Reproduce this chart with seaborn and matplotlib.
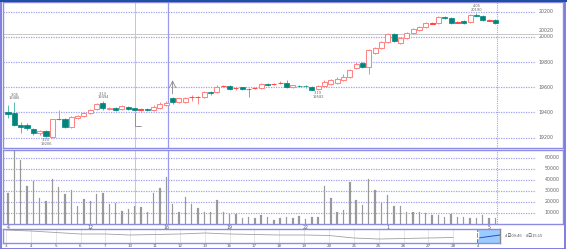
import numpy as np
import pandas as pd
import matplotlib
matplotlib.use("Agg")
import matplotlib.pyplot as plt
from matplotlib.patches import Rectangle
import seaborn as sns

# ---------------- data ----------------
opens = [19406, 19398, 19302, 19298, 19270, 19234, 19250, 19206, 19346, 19350,
         19286, 19358, 19374, 19398, 19430, 19478, 19430, 19438, 19430, 19442,
         19434, 19422, 19430, 19422, 19438, 19462, 19518, 19486, 19482, 19522,
         19522, 19526, 19566, 19566, 19610, 19614, 19594, 19602, 19590, 19594,
         19598, 19630, 19626, 19634, 19638, 19602, 19614, 19614, 19606, 19586,
         19614, 19630, 19638, 19654, 19678, 19750, 19790, 19758, 19870, 19910,
         19958, 20022, 19950, 19990, 20030, 20054, 20078, 20106, 20110, 20158,
         20150, 20114, 20126, 20118, 20174, 20166, 20130, 20134]
highs = [19462, 19486, 19326, 19318, 19278, 19262, 19262, 19350, 19422, 19358,
         19374, 19382, 19406, 19430, 19478, 19494, 19446, 19446, 19462, 19454,
         19438, 19438, 19438, 19462, 19486, 19494, 19526, 19518, 19526, 19542,
         19534, 19574, 19574, 19622, 19622, 19622, 19606, 19606, 19598, 19606,
         19638, 19638, 19638, 19646, 19654, 19622, 19622, 19622, 19614, 19622,
         19654, 19662, 19678, 19702, 19742, 19798, 19798, 19902, 19918, 19966,
         20030, 20030, 19998, 20038, 20070, 20086, 20118, 20118, 20166, 20166,
         20158, 20126, 20134, 20182, 20190, 20174, 20142, 20142]
lows = [19358, 19294, 19238, 19262, 19222, 19222, 19206, 19198, 19342, 19278,
        19278, 19350, 19366, 19390, 19422, 19422, 19422, 19414, 19422, 19422,
        19414, 19414, 19414, 19414, 19430, 19454, 19470, 19478, 19478, 19494,
        19470, 19518, 19542, 19558, 19606, 19582, 19582, 19582, 19526, 19590,
        19590, 19614, 19622, 19630, 19598, 19598, 19606, 19598, 19578, 19582,
        19606, 19622, 19630, 19646, 19670, 19742, 19750, 19702, 19862, 19902,
        19950, 19958, 19942, 19982, 20022, 20046, 20070, 20102, 20102, 20142,
        20102, 20110, 20102, 20110, 20166, 20126, 20126, 20102]
closes = [19390, 19302, 19286, 19278, 19238, 19250, 19214, 19346, 19350, 19286,
          19366, 19374, 19398, 19422, 19470, 19438, 19438, 19422, 19454, 19430,
          19422, 19426, 19418, 19446, 19470, 19478, 19482, 19514, 19514, 19526,
          19526, 19566, 19558, 19606, 19614, 19590, 19598, 19586, 19586, 19598,
          19630, 19622, 19630, 19638, 19606, 19618, 19610, 19610, 19582, 19614,
          19642, 19654, 19666, 19678, 19734, 19786, 19758, 19894, 19910, 19958,
          20022, 19966, 19990, 20030, 20062, 20078, 20110, 20110, 20158, 20154,
          20110, 20118, 20114, 20174, 20170, 20134, 20134, 20110]
volumes = [27900, 66000, 58000, 34500, 39400, 23300, 21200, 40600, 34000, 27000,
           30900, 16400, 22400, 21200, 27300, 28500, 18200, 19400, 11800, 13300,
           16400, 15500, 11200, 27900, 33000, 42700, 18200, 11200, 24800, 17900,
           14800, 11200, 10600, 21800, 11200, 8800, 8800, 5200, 6100, 5500,
           7900, 6100, 3600, 5200, 6100, 5200, 7300, 4500, 6400, 6400,
           34500, 23900, 11200, 12400, 37900, 21800, 17000, 40600, 30900, 18800,
           26400, 16400, 16400, 11200, 11200, 11200, 9700, 8200, 8200, 6700,
           9100, 6700, 6700, 5800, 5800, 8200, 5200, 5200]

price_ticks = [20200, 20000, 19800, 19600, 19400, 19200]
ref_price = 20020
vol_ticks = [60000, 50000, 40000, 30000, 20000, 10000]

xtick_idx = [0, 13, 25, 35, 47, 60, 76]
xtick_labels = ["4", "12", "16", "19", "22", "1", "5"]

nav_labels = ["3", "4", "5", "6", "7", "10", "11", "12", "13", "16",
              "17", "18", "19", "20", "21", "25", "26", "27", "28", "4"]
nav_close = [20857, 20714, 20500, 20286, 20286, 20143, 20214, 20286, 20429, 20286,
             20214, 20143, 20143, 20071, 19714, 19571, 19643, 19714, 19786, 19714, 20143]

# marker labels: (candle index, kind, date text)
hl_labels = [(1, "high", "3.05"), (6, "low", "3.10"), (15, "high", "3.13"),
             (49, "low", "3.19"), (74, "high", "4.05")]

df = pd.DataFrame({"open": opens, "high": highs, "low": lows,
                   "close": closes, "volume": volumes})
df["idx"] = np.arange(len(df))

# ---------------- figure ----------------
sns.set_theme(style="white")
plt.rcParams['font.family'] = ['DejaVu Sans', 'Noto Sans CJK SC']
W, H = 567, 249
fig = plt.figure(figsize=(W / 100, H / 100), dpi=100)
fig.patch.set_facecolor("white")

def ax_px(l, t, r, b):
    return fig.add_axes([l / W, 1 - b / H, (r - l) / W, (b - t) / H])

ax = ax_px(3, 2, 563, 148)
axv = ax_px(3, 150, 563, 224)
axn = ax_px(3, 229, 500, 243)

XL = (-0.79, 87.68)
grid_end = 83.3
lab_x = 83.8
GRID = "#a0a0f0"
FRAME = "#8c8ce6"
UP = "#ff8484"
DN = "#00857a"
DNW = "#55bfae"

# --- main candles
ax.set_xlim(*XL)
ax.set_ylim(19117.6, 20277.6)
for p in price_ticks:
    ax.plot([XL[0], grid_end], [p, p], color=GRID, lw=0.9, ls=(0, (1, 1)), zorder=1)
    ax.text(lab_x, p, f"{p}", fontsize=3.4, color="#666", va="center", ha="left")
ax.plot([XL[0], grid_end + 0.5], [ref_price, ref_price], color="#c8c8c8", lw=0.7, zorder=1)
ax.text(lab_x, ref_price + 8, f"{ref_price}", fontsize=3.4, color="#666", va="bottom", ha="left")

bw = 0.8
for r in df.itertuples():
    up = r.close >= r.open
    if up:
        ax.vlines(r.idx, r.low, r.high, color=UP, lw=0.7, zorder=2)
        bot, h = min(r.open, r.close), abs(r.close - r.open)
        ax.add_patch(Rectangle((r.idx - bw / 2, bot), bw, max(h, 1.5),
                               facecolor="white", edgecolor=UP if h > 6 else "#ff4a4a",
                               lw=0.75, zorder=3))
    else:
        ax.vlines(r.idx, r.low, r.high, color=DNW, lw=0.7, zorder=2)
        bot, h = r.close, r.open - r.close
        ax.add_patch(Rectangle((r.idx - bw / 2, bot), bw, max(h, 1.5),
                               facecolor=DN, edgecolor=DN, lw=0.5, zorder=3))

for i, kind, dt in hl_labels:
    if kind == "high":
        y = df.high[i]
        ax.text(i, y + 10, f"{dt}\n{y}", fontsize=2.6, color="#666", ha="center",
                va="bottom", linespacing=0.9)
    else:
        y = df.low[i]
        ax.text(i, y - 10, f"{dt}\n{y}", fontsize=2.6, color="#666", ha="center",
                va="top", linespacing=0.9)

# signal markers
ax.annotate("", xy=(26, 19678), xytext=(26, df.high[26]),
            arrowprops=dict(arrowstyle="->", color="#888", lw=0.6))
ax.plot([20, 20, 21], [df.low[20] - 20, 19294, 19294], color="#888", lw=0.6)

for a in (ax, axv):
    a.axvline(20, color="#c8c8c8", lw=0.7, zorder=1)
    a.axvline(25.3, color="#9a9af0", lw=0.9, zorder=1)
    a.axvline(77.25, color="#a0a0f0", lw=0.8, ls=(0, (1, 1)), zorder=1)

ax.set_xticks([])
ax.set_yticks([])

# --- volume
axv.set_ylim(0, 67270)
for v in vol_ticks:
    axv.plot([XL[0], grid_end], [v, v], color=GRID, lw=0.9, ls=(0, (1, 1)), zorder=1)
    axv.text(lab_x + 1, v, f"{v}", fontsize=3.4, color="#666", va="center", ha="left")
sns.barplot(data=df, x="idx", y="volume", native_scale=True, color="#999999",
            width=0.22, errorbar=None, ax=axv, saturation=1,
            edgecolor="#999999", linewidth=0.15)
for p in axv.patches:
    p.set_zorder(2)
axv.set_xlim(*XL)
axv.set_xticks(xtick_idx)
axv.set_xticklabels(xtick_labels, fontsize=3.4, color="#555")
axv.tick_params(axis="x", length=0, pad=0.6)
axv.set_yticks([])
axv.set_xlabel("")
axv.set_ylabel("")

# --- navigator
nav_day = list(range(len(nav_labels))) + [19.88]
axn.set_xlim(-0.12, 19.88)
axn.set_ylim(19000, 21000)
axn.add_patch(Rectangle((18.96, 19000), 0.92, 2000, facecolor="#9ccbff",
                        edgecolor="#3a6fd8", lw=0.6, zorder=1))
axn.add_patch(Rectangle((18.93, 19700), 0.07, 900, facecolor="#444", zorder=4))
sns.lineplot(x=nav_day[:-2], y=nav_close[:-2], ax=axn, color="#a0a0a0", lw=0.6, zorder=2)
sns.lineplot(x=nav_day[-2:], y=nav_close[-2:], ax=axn, color="#2050d0", lw=0.7, zorder=3)
axn.set_xticks(range(len(nav_labels)))
axn.set_xticklabels(nav_labels, fontsize=3.0, color="#555")
axn.tick_params(axis="x", length=0, pad=0.6)
axn.grid(axis="x", color="#dcdcdc", lw=0.5)
axn.set_yticks([])
fig.text(505 / W, 1 - 236 / H, "4日09:46 ~ 4日15:15", fontsize=3.0, color="#555",
         va="center", ha="left", family=['Noto Sans CJK SC', 'DejaVu Sans'])

for a in (ax, axv, axn):
    for s in a.spines.values():
        s.set_color(FRAME)
        s.set_linewidth(1.0)
    a.set_facecolor("white")
axn.spines["right"].set_color("#888")

# outer frame
fig.add_artist(Rectangle((0.5 / W, 0.5 / H), (W - 3) / W, (H - 2) / H,
                         transform=fig.transFigure, fill=False,
                         edgecolor="#6a6ad8", lw=1.2))
fig.add_artist(plt.Line2D([0, 1], [1 - 1 / H, 1 - 1 / H], transform=fig.transFigure,
                          color="#1f4f9f", lw=1.5))

fig.savefig("out.png", dpi=100)
